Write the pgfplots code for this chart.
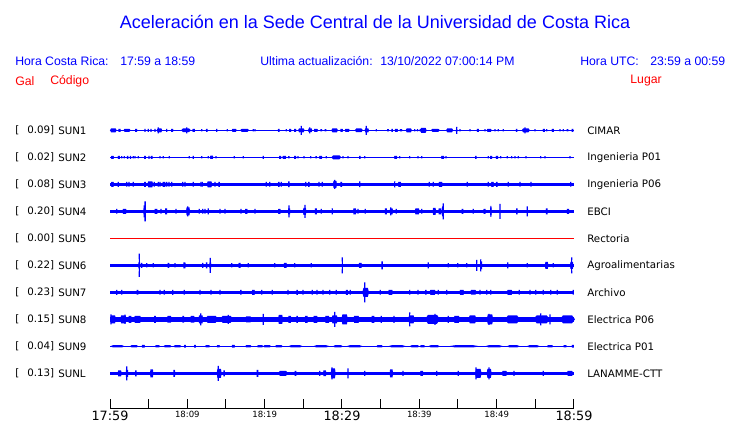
\documentclass[border=0pt]{standalone}
\usepackage{pgfplots}
\pgfplotsset{compat=1.18}
\usepackage{pgfplotstable}
\usepackage{fontspec}
\setmainfont{Liberation Sans}
\newfontfamily\dv{DejaVu Sans}
\definecolor{tblue}{RGB}{0,0,255}
\definecolor{tred}{RGB}{255,0,0}

% burst mark: duration w (minutes, 5.8pt per minute), half-height a (1 unit = 0.75pt)
\pgfdeclareplotmark{burst}{%
  \pgfmathsetlengthmacro\bho{2.9pt*\bw}%
  \pgfmathsetlengthmacro\bhi{1.6pt*\bw+0.25pt}%
  \pgfmathsetlengthmacro\bhh{0.75pt*\ba}%
  \pgfpathmoveto{\pgfpoint{-\bho}{0pt}}%
  \pgfpathlineto{\pgfpoint{-\bhi}{\bhh}}%
  \pgfpathlineto{\pgfpoint{\bhi}{\bhh}}%
  \pgfpathlineto{\pgfpoint{\bho}{0pt}}%
  \pgfpathlineto{\pgfpoint{\bhi}{-\bhh}}%
  \pgfpathlineto{\pgfpoint{-\bhi}{-\bhh}}%
  \pgfpathclose
  \pgfusepathqfill}
\pgfplotsset{
  bursts/.style={only marks, scatter, mark=burst, point meta=explicit,
    scatter/use mapped color={draw=none,fill=#1},
    visualization depends on={\thisrow{w}\as\bw},
    visualization depends on={\thisrow{a}\as\ba}},
  bursts/.default=tblue,
}
\newcommand\bigt[1]{{\dv\fontsize{9.6pt}{11pt}\selectfont #1}}
\newcommand\smallt[1]{{\dv\fontsize{6.4pt}{7pt}\selectfont #1}}

% t = minutes after 17:59, w = burst duration (min), a = half amplitude (trace units)
\pgfplotstableread{
t w a
0.43 0.87 2
1.23 0.31 1.5
2.20 0.96 1.5
3.38 0.30 1.5
4.53 0.13 1.5
4.95 0.13 1.5
5.30 0.13 1.5
5.82 0.13 1.5
6.40 0.72 2
6.25 0.13 3
7.33 0.13 1.5
8.04 0.30 1.5
9.83 1.29 1.8
9.92 0.13 3
10.82 0.35 1.5
11.86 0.13 1.2
12.52 0.22 1.5
13.80 0.13 1.5
15.17 0.13 1.2
16.06 0.65 1.5
17.41 1.20 1.5
18.53 0.13 1.2
18.75 0.13 1.2
21.83 0.22 1.5
22.80 0.13 1.2
23.30 0.30 1.5
23.94 0.30 1.5
24.74 0.87 2
24.74 0.13 4.5
25.88 0.56 1.8
25.82 0.13 3
26.62 0.56 1.5
27.32 0.26 1.2
27.87 0.21 1.2
29.05 0.87 2
29.95 0.35 1.5
30.67 0.65 1.5
32.18 1.07 1.8
33.21 0.56 2
33.14 0.13 4.5
34.44 0.13 1.2
35.95 0.26 1.2
36.48 0.22 1.5
37.03 0.43 1.5
37.63 0.34 1.2
38.64 0.81 2
39.40 0.13 1.2
39.76 0.13 1.2
40.12 0.13 1.2
40.52 0.87 2.5
42.07 1.20 1.5
43.92 0.94 2
44.83 0.17 1.5
44.83 0.13 3.5
45.26 0.13 1.2
46.55 0.13 1.2
47.57 0.30 1.5
48.49 0.13 1.2
49.03 0.65 1.5
49.78 0.13 1.2
50.21 0.13 1.2
50.86 0.13 1.2
52.58 0.17 1.5
53.77 1.07 2
53.66 0.13 3
54.96 0.13 1.2
56.10 0.30 1.5
56.47 0.13 1.2
57.26 0.30 1.5
58.19 0.13 1.2
58.62 0.13 1.2
59.16 0.21 1.2
59.81 0.21 1.5
}\sunone

\pgfplotstableread{
t w a
0.32 0.39 1.5
1.14 0.30 1.5
1.51 0.13 1.2
1.85 0.13 1.2
2.28 0.17 1.5
2.65 0.13 1.5
3.01 0.13 1.2
3.23 0.13 1.2
3.66 0.13 1.2
4.53 0.26 1.5
5.04 0.18 1.5
5.39 0.26 1.5
6.47 0.13 1.2
6.89 0.13 1.2
7.67 0.13 1.2
10.25 0.13 1.2
10.77 0.13 1.5
11.86 0.13 1.2
12.71 0.13 1.2
13.14 0.43 1.7
13.71 0.13 1.2
16.07 0.13 1.2
17.24 0.13 1.2
19.82 0.13 1.5
22.00 0.30 1.5
22.54 0.52 1.5
23.13 0.22 1.2
23.94 0.30 1.5
24.31 0.13 1.2
25.09 0.13 1.2
25.95 0.13 1.2
26.66 0.22 1.2
27.24 0.43 1.5
27.97 0.13 1.2
29.26 1.29 2
30.13 0.13 1.2
30.78 0.13 1.2
32.31 0.22 1.5
32.94 0.13 1.2
36.94 0.43 1.5
37.46 0.13 1.2
38.75 0.13 1.2
39.83 0.13 1.2
40.31 0.13 1.2
43.02 0.43 1.5
43.45 0.13 1.2
47.31 0.22 1.5
48.92 0.13 1.2
49.29 0.30 1.5
50.04 0.34 1.5
50.52 0.13 1.2
51.37 0.13 1.2
51.94 0.13 1.2
52.37 0.13 1.2
52.80 0.13 1.2
53.79 0.13 1.2
55.69 0.13 1.2
56.25 0.13 1.2
59.48 0.13 1.2
}\suntwo

\pgfplotstableread{
t w a
0.32 0.39 2.5
1.07 0.13 2.5
2.16 0.13 2.3
2.46 0.13 2.3
3.01 0.13 2.3
4.53 0.26 2.5
5.21 0.78 3
5.73 0.13 2.3
6.25 0.13 2.3
6.47 0.13 2.3
6.98 0.44 2.5
7.33 0.13 2.3
7.63 0.13 2.3
7.98 0.13 2.3
9.40 0.13 2.3
9.70 0.13 2.3
10.77 0.13 2.3
11.77 0.13 2.3
11.94 0.13 2.3
12.87 0.72 3
13.58 0.13 2.3
14.11 0.22 2.5
20.21 0.13 2.3
20.65 0.13 2.3
21.83 0.22 2.5
22.15 0.13 2.3
23.13 0.22 2.8
25.31 0.13 2.3
25.71 0.22 2.5
27.03 0.13 2.3
27.45 0.13 2.3
29.09 0.52 3.5
29.06 0.13 4.5
29.91 0.26 2.5
32.29 0.13 2.8
36.81 0.13 3
37.45 0.43 2.5
41.29 0.13 2.3
41.81 0.13 2.3
42.74 0.57 2.5
46.20 0.13 2.3
48.92 0.13 2.3
49.46 0.39 2.5
50.02 0.22 2.5
51.50 0.13 2.3
53.02 0.13 2.3
54.44 0.13 2.3
59.57 0.13 2.3
}\sunthree

\pgfplotstableread{
t w a
0.87 0.13 2.3
1.88 0.57 2.5
4.49 0.35 6
4.53 0.20 10
5.95 0.44 2.5
6.59 0.13 2.3
7.26 0.30 3
8.53 0.13 2.3
10.09 0.52 4
10.05 0.13 5
11.55 0.13 2.3
11.99 0.13 2.3
12.28 0.13 2.3
12.71 0.13 3
14.22 0.13 2.3
14.87 0.13 2.3
16.94 0.13 2.3
17.63 0.35 2.5
18.75 0.13 2.3
21.90 0.35 2.5
23.17 0.30 3
23.15 0.13 6
25.17 0.43 3.5
25.22 0.13 6.5
26.62 0.30 3
27.32 0.13 2.3
28.75 0.13 3
31.64 0.43 3
32.07 0.13 2.3
33.01 0.13 2.3
35.67 0.30 3
36.38 0.43 3
36.30 0.13 4
37.02 0.13 2.3
39.72 0.65 3
40.31 0.13 2.3
41.94 0.43 3.5
42.67 0.44 3
43.05 0.26 5
43.10 0.13 8
45.58 0.21 2.5
46.98 0.13 2.3
48.43 0.30 2.5
49.25 0.22 4
49.25 0.13 5.5
50.43 0.13 7.5
52.61 0.22 3
53.96 0.13 5
56.47 0.26 3
59.22 0.34 2.5
}\sunfour

\pgfplotstableread{
t w a
3.79 0.26 3
3.79 0.13 11.7
4.10 0.13 2.5
4.75 0.13 2.2
5.60 0.13 2.2
7.56 0.21 2.5
8.41 0.13 2.2
9.63 0.30 3
11.99 0.13 2.5
12.50 0.17 3
12.97 0.26 3
12.97 0.13 7.5
15.74 0.13 2.2
16.75 0.30 2.5
17.88 0.13 2.2
21.30 0.13 2.2
22.67 0.43 2.5
23.88 0.13 2.2
26.03 0.13 2.2
30.04 0.13 8
32.37 0.43 2.5
35.19 0.22 4
41.16 0.13 3
43.75 0.13 2.2
44.96 0.13 2.2
46.13 0.13 2.2
47.42 0.13 5.5
47.99 0.30 4
47.93 0.13 6
51.43 0.13 3
53.96 0.13 2.2
56.46 0.43 3.5
57.32 0.13 2.2
59.70 0.43 3.5
59.70 0.13 8
}\sunsix

\pgfplotstableread{
t w a
0.87 0.13 2.5
1.51 0.13 2.3
3.56 0.21 2.3
6.47 0.13 2.3
7.02 0.13 2.3
8.11 0.13 2.5
9.61 0.13 2.3
11.64 0.13 2.3
13.06 0.13 2.3
14.22 0.13 2.3
16.92 0.22 2.3
18.54 0.43 2.5
19.62 0.13 2.3
20.99 0.13 2.3
23.02 0.13 2.3
24.20 0.22 2.5
24.96 0.13 2.3
26.16 0.13 2.3
26.77 0.13 2.3
27.54 0.13 2.3
28.41 0.13 2.3
29.26 0.13 2.3
30.63 0.30 2.5
31.07 0.13 2.3
33.06 0.87 4.5
32.94 0.13 10
34.95 0.13 2.3
36.27 0.65 2.5
38.75 0.13 2.3
39.83 0.13 2.3
40.84 0.22 2.3
41.72 0.87 2.5
42.45 0.13 2.3
43.54 0.13 2.3
45.49 0.65 2.5
46.98 0.87 2.3
47.84 0.13 2.3
48.71 0.13 2.3
49.23 0.13 2.3
51.68 0.78 2.5
52.93 0.13 2.3
54.31 0.13 2.3
55.05 0.13 2.3
56.03 0.13 2.3
56.99 0.13 2.3
57.84 0.13 2.3
59.91 0.13 2.3
}\sunseven

\pgfplotstableread{
t w a
0.39 0.78 4
0.13 0.13 5
1.73 0.87 4
1.94 0.13 4.7
2.59 0.44 3.5
3.56 1.09 3.5
5.82 0.26 3.5
7.66 0.65 3.3
9.48 0.26 3.3
10.67 0.65 3.3
11.74 0.65 4
11.73 0.13 6
13.14 1.72 3.5
15.08 1.72 3.5
15.30 0.13 4.5
17.89 0.87 3
19.82 0.13 5.5
22.05 0.65 4.5
23.23 0.43 3.5
24.20 0.22 3.5
25.39 0.43 3.5
26.57 0.65 3.5
28.09 0.65 3.5
29.05 0.87 4
29.06 0.13 7.5
30.34 0.87 5
31.86 0.87 3.5
34.01 0.44 3.5
35.08 0.13 3.5
36.72 0.13 3.5
38.97 0.87 4
38.75 0.13 7
41.70 1.94 4.5
42.03 0.13 5.5
43.75 0.13 3.5
44.83 0.87 3.5
46.87 1.09 4
49.14 0.86 5
49.00 0.13 5.5
52.05 1.94 4
55.82 2.16 4
55.69 0.13 6
56.90 0.13 5
59.16 1.94 4
}\suneight

\pgfplotstableread{
t w a
0.97 1.94 1.1
3.12 1.07 1.1
4.31 0.43 1.4
6.14 0.65 1.1
7.44 1.09 1.1
8.73 1.09 1.1
9.70 0.26 1.4
10.99 0.26 1.4
12.61 0.65 1.1
14.01 0.43 1.1
15.95 0.43 1.4
17.89 0.87 1.1
19.40 0.86 1.1
20.32 1.07 1.1
21.83 1.07 1.1
23.99 1.94 1.1
27.33 2.16 1.1
29.48 1.29 1.1
31.64 2.16 1.1
34.87 0.87 1.1
37.13 2.37 1.1
39.40 1.29 1.1
40.41 0.65 1.1
41.92 1.51 1.1
45.80 4.10 1.1
49.67 2.37 1.1
52.16 1.72 1.1
54.74 1.72 1.1
56.90 0.86 1.1
58.84 0.44 1.1
59.85 0.30 1.4
}\sunnine

\pgfplotstableread{
t w a
1.25 0.52 3
2.20 0.34 3.5
2.16 0.13 7
3.34 0.22 3
5.39 0.43 4
8.30 0.22 3.5
14.12 0.65 4.5
14.00 0.13 7.5
14.76 0.22 3
19.07 0.21 3.5
22.37 1.29 2.5
23.99 0.21 2.5
27.12 0.13 2.5
27.76 0.43 2.8
28.86 0.65 5
28.71 0.13 6
30.78 0.13 5
32.94 0.13 2.5
36.38 0.43 4
37.89 0.13 2.5
40.30 0.43 2.5
42.25 0.13 2.5
45.04 0.13 2.5
47.63 0.87 4.5
47.33 0.13 6
49.03 0.65 4.5
49.01 0.13 6
51.01 0.72 2.5
52.24 0.13 2.5
56.03 0.13 2.5
59.48 0.86 2.5
}\sunl

\begin{document}
\begin{tikzpicture}
\begin{axis}[
  at={(82.5pt,-306.375pt)}, anchor=south west,
  scale only axis, width=348pt, height=306.375pt,
  xmin=0, xmax=60, ymin=-408.5, ymax=0,
  clip=false,
  axis x line=bottom, axis y line=none,
  x axis line style={-, line width=0.75pt, black},
  xtick={0,5,...,60},
  xticklabels={\bigt{17:59},,\smallt{18:09},,\smallt{18:19},,\bigt{18:29},,\smallt{18:39},,\smallt{18:49},,\bigt{18:59}},
  major tick length=7pt, tick align=inside,
  tick style={black, line width=0.75pt},
  xticklabel style={anchor=north, inner sep=0pt, yshift=-1.5pt},
  ytick=\empty,
]
% baselines
\addplot[tblue, line width=0.75pt] coordinates {(0,-130.3) (60,-130.3)};
\addplot[tblue, line width=0.75pt] coordinates {(0,-157.3) (60,-157.3)};
\addplot[tblue, line width=2.4pt] coordinates {(0,-184.3) (60,-184.3)};
\addplot[tblue, line width=2.3pt] coordinates {(0,-211.3) (60,-211.3)};
\addplot[tred, line width=0.9pt] coordinates {(0,-238.3) (60,-238.3)};
\addplot[tblue, line width=2.5pt] coordinates {(0,-265.3) (60,-265.3)};
\addplot[tblue, line width=2.3pt] coordinates {(0,-292.3) (60,-292.3)};
\addplot[tblue, line width=4.1pt] coordinates {(0,-319.3) (60,-319.3)};
\addplot[tblue, line width=0.9pt] coordinates {(0,-346.3) (60,-346.3)};
\addplot[tblue, line width=2.3pt] coordinates {(0,-373.3) (60,-373.3)};
% bursts
\addplot[bursts] table[x=t, y expr=-130.3, meta=a] {\sunone};
\addplot[bursts] table[x=t, y expr=-157.3, meta=a] {\suntwo};
\addplot[bursts] table[x=t, y expr=-184.3, meta=a] {\sunthree};
\addplot[bursts] table[x=t, y expr=-211.3, meta=a] {\sunfour};
\addplot[bursts] table[x=t, y expr=-265.3, meta=a] {\sunsix};
\addplot[bursts] table[x=t, y expr=-292.3, meta=a] {\sunseven};
\addplot[bursts] table[x=t, y expr=-319.3, meta=a] {\suneight};
\addplot[bursts] table[x=t, y expr=-346.3, meta=a] {\sunnine};
\addplot[bursts] table[x=t, y expr=-373.3, meta=a] {\sunl};
\end{axis}

\begin{scope}[x=0.75pt, y=-0.75pt, every node/.style={inner sep=0pt}]
\node[tblue, font=\fontsize{13.5pt}{15pt}\selectfont] at (375,22) {Aceleración en la Sede Central de la Universidad de Costa Rica};
\begin{scope}[every node/.append style={tblue, anchor=west, font=\fontsize{9.2pt}{11pt}\selectfont}]
\node at (15,61) {Hora Costa Rica:};
\node at (120,61) {17:59 a 18:59};
\node at (260,61) {Ultima actualización:};
\node at (380,61) {13/10/2022 07:00:14 PM};
\node at (580,61) {Hora UTC:};
\node at (650,61) {23:59 a 00:59};
\end{scope}
\begin{scope}[every node/.append style={tred, font=\fontsize{9.2pt}{11pt}\selectfont}]
\node[anchor=west] at (15,81) {Gal};
\node[anchor=west] at (50,81) {Código};
\node[anchor=east] at (662,81) {Lugar};
\end{scope}
\begin{scope}[every node/.append style={black, font=\dv\fontsize{7.7pt}{9pt}\selectfont}]
\foreach \k/\v/\c/\p in {0/0.09/SUN1/CIMAR, 1/0.02/SUN2/Ingenieria P01, 2/0.08/SUN3/Ingenieria P06, 3/0.20/SUN4/EBCI, 4/0.00/SUN5/Rectoria, 5/0.22/SUN6/Agroalimentarias, 6/0.23/SUN7/Archivo, 7/0.15/SUN8/Electrica P06, 8/0.04/SUN9/Electrica P01, 9/0.13/SUNL/LANAMME-CTT}{
  \node[anchor=west] at (15,130.3+27*\k) {[};
  \node[anchor=east] at (54.5,130.3+27*\k) {\v]};
  \node[anchor=west] at (58,130.3+27*\k) {\c};
  \node[anchor=west] at (587,130.3+27*\k) {\p};
}
\end{scope}
\end{scope}
\pgfresetboundingbox
\path[use as bounding box] (0pt,0pt) rectangle (555pt,-317.25pt);
\end{tikzpicture}
\end{document}
